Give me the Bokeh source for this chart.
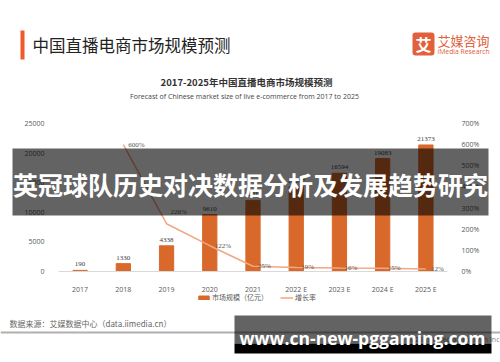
from bokeh.plotting import figure
from bokeh.models import (Range1d, LinearAxis, Label, BoxAnnotation, ColumnDataSource,
                          LabelSet, FixedTicker, Legend, LegendItem, PrintfTickFormatter)
from bokeh.embed import file_html
from bokeh.resources import INLINE

# ---------------- data ----------------
years = ["2017", "2018", "2019", "2020", "2021", "2022 E", "2023 E", "2024 E", "2025 E"]
market_size = [190, 1330, 4338, 9610, 12012, 14297, 16594, 19083, 21373]   # 亿元
rate_years = ["2018", "2019", "2020", "2021", "2022 E", "2023 E", "2024 E", "2025 E"]
growth_rate = [600, 226, 122, 25, 19, 16, 15, 12]                         # %
left_ticks = [0, 5000, 10000, 15000, 20000, 25000]
right_ticks = [0, 100, 200, 300, 400, 500, 600, 700]

header_title = "中国直播电商市场规模预测"
chart_title = "2017-2025年中国直播电商市场规模预测"
chart_subtitle = "Forecast of Chinese market size of live e-commerce from 2017 to 2025"
source_note = "数据来源：艾媒数据中心（data.iimedia.cn）"
copyright_note = "©2021 iiMedia Research Inc"
overlay_title = "英冠球队历史对决数据分析及发展趋势研究"
overlay_url = "www.cn-new-pggaming.com"
legend_bar = "市场规模（亿元）"
legend_line = "增长率"

# ---------------- style / layout ----------------
BAR = "#d8692a"
LINE = "#f4a582"
ACCENT = "#e2603b"
CJK = "Noto Sans CJK SC"
LAT = "Open Sans"
TXT = "#595959"

W, H = 500, 362
# plot area in canvas pixels (from top-left)
FL, FR, FT, FB = 58, 447, 123, 271
YMAX, PMAX = 25000, 700

n = len(years)
idx = list(range(n))
ppu_x = (FR - FL) / n
x_start = -0.5 - FL / ppu_x
x_end = n - 0.5 + (W - FR) / ppu_x
ppu_y = (FB - FT) / YMAX
ppu_p = (FB - FT) / PMAX
y_start, y_end = -(H - FB) / ppu_y, YMAX + FT / ppu_y
p_start, p_end = -(H - FB) / ppu_p, PMAX + FT / ppu_p

p = figure(width=W, height=H, x_range=Range1d(x_start, x_end), y_range=Range1d(y_start, y_end),
           output_backend="svg", toolbar_location=None, min_border=0,
           x_axis_location=None, y_axis_location=None,
           background_fill_color="white", border_fill_color="white")
p.outline_line_color = None
p.grid.visible = False
p.extra_y_ranges = {"pct": Range1d(p_start, p_end)}


def style_axis(ax):
    ax.major_tick_line_color = None
    ax.minor_tick_line_color = None
    ax.major_label_text_font = LAT
    ax.major_label_text_font_size = "7px"
    ax.major_label_text_color = TXT


xaxis = LinearAxis(fixed_location=0, ticker=FixedTicker(ticks=idx),
                   major_label_overrides={i: y for i, y in zip(idx, years)},
                   bounds=(-0.5, n - 0.5))
style_axis(xaxis)
xaxis.axis_line_color = "#d9d9d9"
xaxis.major_label_standoff = 7
p.add_layout(xaxis, "below")

laxis = LinearAxis(fixed_location=-0.5, ticker=FixedTicker(ticks=left_ticks), bounds=(0, YMAX))
style_axis(laxis)
laxis.axis_line_color = None
laxis.major_label_standoff = 8
p.add_layout(laxis, "left")

raxis = LinearAxis(y_range_name="pct", fixed_location=n - 0.5, ticker=FixedTicker(ticks=right_ticks),
                   formatter=PrintfTickFormatter(format="%d%%"), bounds=(0, PMAX))
style_axis(raxis)
raxis.axis_line_color = None
raxis.major_label_standoff = 8
p.add_layout(raxis, "right")

# glyphs
bar_src = ColumnDataSource(dict(x=idx, top=market_size, txt=[str(v) for v in market_size]))
bars = p.vbar(x="x", top="top", width=0.33, source=bar_src, fill_color=BAR, line_color=BAR)
p.add_layout(LabelSet(x="x", y="top", text="txt", source=bar_src, text_align="center",
                      text_baseline="bottom", y_offset=4, text_font_size="7px",
                      text_font=LAT, text_color="#404040"))

rate_idx = [years.index(y) for y in rate_years]
rate_src = ColumnDataSource(dict(x=rate_idx, y=growth_rate, txt=[f"{v}%" for v in growth_rate],
                                 dx=[4 if v == 226 else 5 for v in growth_rate],
                                 dy=[12 if v == 226 else 0 for v in growth_rate]))
line = p.line(x="x", y="y", source=rate_src, y_range_name="pct", line_color=LINE, line_width=1.5)
p.add_layout(LabelSet(x="x", y="y", text="txt", source=rate_src, y_range_name="pct",
                      x_offset="dx", y_offset="dy", text_baseline="middle", text_font_size="7px",
                      text_font=LAT, text_color="#555555"))

legend = Legend(items=[LegendItem(label=legend_bar, renderers=[bars]),
                       LegendItem(label=legend_line, renderers=[line])],
                location=(197, H - 302), orientation="horizontal", padding=0, margin=0,
                spacing=12, glyph_width=13, glyph_height=5, label_height=5, label_standoff=2,
                label_text_font_size="7px", label_text_font=CJK, label_text_color=TXT,
                border_line_color=None, background_fill_alpha=0)
p.add_layout(legend)


# ---------- page-level decorations (canvas px from top-left -> screen units) ----------
def box(x0, x1, y0, y1, color, alpha=1.0, radius=0):
    p.add_layout(BoxAnnotation(left=x0, right=x1, top=H - y0, bottom=H - y1,
                               left_units="screen", right_units="screen",
                               top_units="screen", bottom_units="screen",
                               fill_color=color, fill_alpha=alpha, line_color=None,
                               border_radius=radius, level="overlay"))


def text(X, Y, s, size, color, font=CJK, align="left", style="normal"):
    p.add_layout(Label(x=X, y=H - Y, x_units="screen", y_units="screen", text=s,
                       text_font=font, text_font_size=f"{size}px", text_color=color,
                       text_align=align, text_baseline="middle", text_font_style=style,
                       level="overlay"))


# header
box(20, 24, 30, 59, "#f05a28")
text(32, 44, header_title, 16.5, "#222222")
box(412, 434, 32, 55, ACCENT, radius=3)
text(423, 43.5, "艾", 16, "white", align="center", style="bold")
text(437, 40, "艾媒咨询", 13, ACCENT)
text(437, 51, "iMedia Research", 6.8, ACCENT, font=LAT)
text(246, 81, chart_title, 9.5, "#333333", align="center", style="bold")
text(244, 96, chart_subtitle, 7, "#444444", font=LAT, align="center")

# footer
text(9, 323, source_note, 8, "#666666")
box(0, 500, 331, 333, "#b0b0b0")
text(499, 339, copyright_note, 7, "#888888", font=LAT, align="right")

# overlays
box(12, 488, 148, 215, "black", alpha=0.61)
text(250, 183, overlay_title, 25, "white", align="center", style="bold")
box(234, 491, 315, 343, "black", alpha=0.61)
box(234, 491, 343, 353, "black")
text(362, 337, overlay_url, 17.5, "white", font=LAT, align="center", style="bold")

open("out.html", "w").write(file_html(p, INLINE))
